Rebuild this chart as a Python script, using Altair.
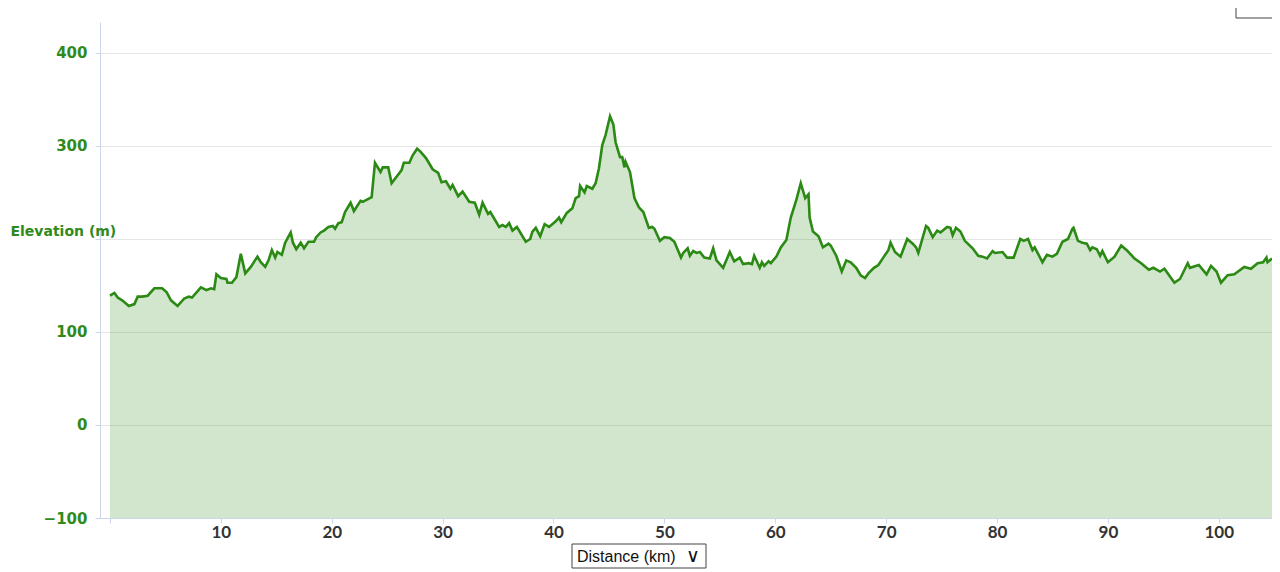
import altair as alt
import pandas as pd

# Distance along the route (km) and elevation (m), read from the profile
distance_km = [
    0.0, 0.4, 0.7, 1.1, 1.7, 2.2, 2.5, 2.9, 3.4, 4.0,
    4.7, 5.1, 5.5, 6.1, 6.7, 7.1, 7.4, 8.2, 8.7, 9.1,
    9.4, 9.6, 10.0, 10.5, 10.6, 11.0, 11.4, 11.8, 12.2, 12.7,
    13.3, 13.6, 14.0, 14.3, 14.6, 14.9, 15.1, 15.5, 15.8, 16.3,
    16.5, 16.8, 17.2, 17.5, 17.9, 18.4, 18.6, 19.0, 19.3, 19.7,
    20.1, 20.3, 20.6, 20.9, 21.2, 21.7, 22.0, 22.6, 22.8, 23.6,
    23.9, 24.4, 24.6, 25.1, 25.4, 26.3, 26.5, 27.0, 27.3, 27.7,
    28.0, 28.5, 29.1, 29.6, 29.9, 30.3, 30.7, 30.9, 31.4, 31.8,
    32.4, 32.9, 33.3, 33.6, 34.1, 34.3, 35.1, 35.4, 35.7, 36.0,
    36.3, 36.7, 37.0, 37.5, 37.9, 38.1, 38.4, 38.8, 39.2, 39.6,
    40.2, 40.5, 40.7, 41.2, 41.7, 42.0, 42.3, 42.4, 42.8, 43.0,
    43.5, 43.8, 44.1, 44.4, 44.7, 45.1, 45.4, 45.6, 46.0, 46.2,
    46.4, 46.5, 46.9, 47.3, 47.7, 48.1, 48.6, 48.9, 49.1, 49.6,
    50.0, 50.5, 50.9, 51.5, 51.7, 52.1, 52.3, 52.6, 52.9, 53.2,
    53.6, 54.1, 54.4, 54.7, 55.3, 55.9, 56.3, 56.8, 57.1, 57.6,
    57.9, 58.1, 58.6, 58.8, 59.0, 59.4, 59.6, 60.1, 60.5, 61.0,
    61.4, 61.9, 62.3, 62.7, 63.0, 63.1, 63.4, 63.9, 64.3, 64.8,
    65.0, 65.5, 66.0, 66.4, 66.8, 67.3, 67.7, 68.1, 68.4, 68.9,
    69.3, 69.8, 70.2, 70.4, 70.8, 71.3, 71.9, 72.4, 72.7, 72.9,
    73.6, 73.8, 74.2, 74.6, 74.9, 75.5, 75.8, 76.0, 76.3, 76.7,
    77.1, 77.8, 78.3, 78.7, 79.1, 79.6, 79.8, 80.5, 80.9, 81.5,
    82.1, 82.4, 82.8, 83.2, 83.4, 84.1, 84.5, 85.0, 85.4, 85.9,
    86.4, 86.8, 86.9, 87.3, 87.7, 88.1, 88.4, 88.6, 89.0, 89.3,
    89.5, 90.0, 90.6, 91.2, 91.7, 92.4, 93.0, 93.7, 94.1, 94.7,
    95.1, 96.0, 96.5, 97.2, 97.4, 98.2, 98.9, 99.3, 99.8, 100.2,
    100.8, 101.4, 102.3, 102.9, 103.5, 104.0, 104.3, 104.4, 104.8,
]

elevation_m = [
    139, 142, 137, 134, 128, 130, 138, 138, 139, 147,
    147, 143, 134, 128, 136, 138, 137, 148, 145, 147,
    146, 162, 158, 157, 153, 153, 159, 184, 163, 170,
    181, 175, 170, 177, 188, 180, 186, 183, 196, 207,
    196, 189, 196, 190, 197, 197, 202, 207, 209, 213,
    214, 211, 217, 218, 229, 239, 230, 241, 240, 245,
    282, 272, 277, 277, 260, 274, 282, 282, 290, 297,
    294, 287, 275, 271, 261, 262, 254, 258, 246, 251,
    240, 239, 226, 239, 227, 229, 213, 215, 213, 217,
    209, 213, 207, 197, 200, 208, 212, 203, 216, 213,
    219, 223, 218, 228, 233, 244, 246, 257, 250, 257,
    254, 260, 276, 301, 312, 332, 323, 304, 288, 288,
    277, 283, 272, 244, 234, 229, 212, 213, 211, 198,
    202, 201, 197, 180, 185, 190, 182, 187, 185, 186,
    180, 179, 190, 177, 169, 186, 176, 180, 173, 174,
    173, 182, 169, 175, 171, 176, 174, 181, 191, 199,
    223, 242, 260, 244, 248, 223, 208, 203, 191, 195,
    193, 182, 165, 177, 175, 169, 161, 158, 163, 169,
    172, 181, 188, 196, 186, 181, 200, 195, 191, 185,
    214, 212, 202, 209, 207, 213, 212, 204, 212, 208,
    198, 190, 182, 181, 179, 187, 185, 186, 180, 180,
    200, 198, 200, 188, 191, 175, 183, 181, 184, 197,
    200, 211, 212, 198, 196, 195, 188, 191, 189, 182,
    187, 175, 181, 193, 188, 179, 174, 167, 169, 165,
    168, 153, 157, 174, 169, 172, 162, 171, 165, 153,
    161, 162, 170, 168, 174, 175, 180, 175, 179,
]

x_ticks = [0, 10, 20, 30, 40, 50, 60, 70, 80, 90, 100]
y_ticks = [-100, 0, 100, 200, 300, 400]
x_title = "Distance (km)"
y_title = "Elevation (m)"

df = pd.DataFrame({"km": distance_km, "elev": elevation_m})

LINE = "#2a8a14"
LABEL_GREEN = "#2f8a1c"
AXIS_COL = "#ccd6eb"
GRID = "#e6e6e6"

x_enc = alt.X(
    "km:Q",
    scale=alt.Scale(domain=[-0.9, 104.8], nice=False, zero=False),
    axis=alt.Axis(
        values=x_ticks,
        labelExpr="datum.value == 0 ? '' : datum.label",
        grid=False,
        domainColor=AXIS_COL,
        tickColor=AXIS_COL,
        tickSize=5,
        labelFont="Lato",
        labelFontSize=17,
        labelFontWeight="bold",
        labelColor="#333333",
        labelPadding=1,
        title=None,
        zindex=1,
    ),
)

y_enc = alt.Y(
    "elev:Q",
    scale=alt.Scale(domain=[-100, 433.3], nice=False, zero=False),
    axis=alt.Axis(
        values=y_ticks,
        labelExpr="datum.value == 200 ? '' : datum.label",
        grid=True,
        gridColor=GRID,
        domainColor=AXIS_COL,
        tickColor=AXIS_COL,
        tickSize=5,
        labelPadding=8,
        labelFont="DejaVu Sans",
        labelFontSize=15,
        labelFontWeight="bold",
        labelColor=LABEL_GREEN,
        title=y_title,
        titleAngle=0,
        titleX=-90,
        titleY=209,
        titleAlign="left",
        titleBaseline="middle",
        titleFont="DejaVu Sans",
        titleFontSize=14,
        titleFontWeight="bold",
        titleColor=LABEL_GREEN,
    ),
)

area = alt.Chart(df).mark_area(
    color=LINE,
    fillOpacity=0.21,
    line={"color": LINE, "strokeWidth": 2.6},
).encode(x=x_enc, y=y_enc, y2=alt.datum(-100))

one = pd.DataFrame({"t": [x_title]})

box = alt.Chart(one).mark_rect(fill="white", stroke="#444444", strokeWidth=1).encode(
    x=alt.value(472), x2=alt.value(606), y=alt.value(522), y2=alt.value(546)
)
box_text = alt.Chart(one).mark_text(
    align="left", baseline="middle", font="Liberation Sans", fontSize=16, color="#111111"
).encode(text="t:N", x=alt.value(477), y=alt.value(535))
chevron = alt.Chart(pd.DataFrame({"c": ["∨"]})).mark_text(
    align="center", baseline="middle", font="DejaVu Sans", fontSize=19, color="#111111"
).encode(text="c:N", x=alt.value(593), y=alt.value(534))

corner = alt.Chart(one).mark_rect(fill="white", stroke="#444444", strokeWidth=1).encode(
    x=alt.value(1136), x2=alt.value(1200), y=alt.value(-40), y2=alt.value(-4)
)

chart = (
    alt.layer(area, box, box_text, chevron, corner)
    .properties(
        width=1172,
        height=496,
        autosize=alt.AutoSizeParams(type="none"),
        padding={"left": 92, "top": 14, "right": 0, "bottom": 52},
        background="white",
    )
    .configure_view(stroke="transparent")
)

chart.save("out.html", embed_options={"renderer": "svg", "actions": False})
